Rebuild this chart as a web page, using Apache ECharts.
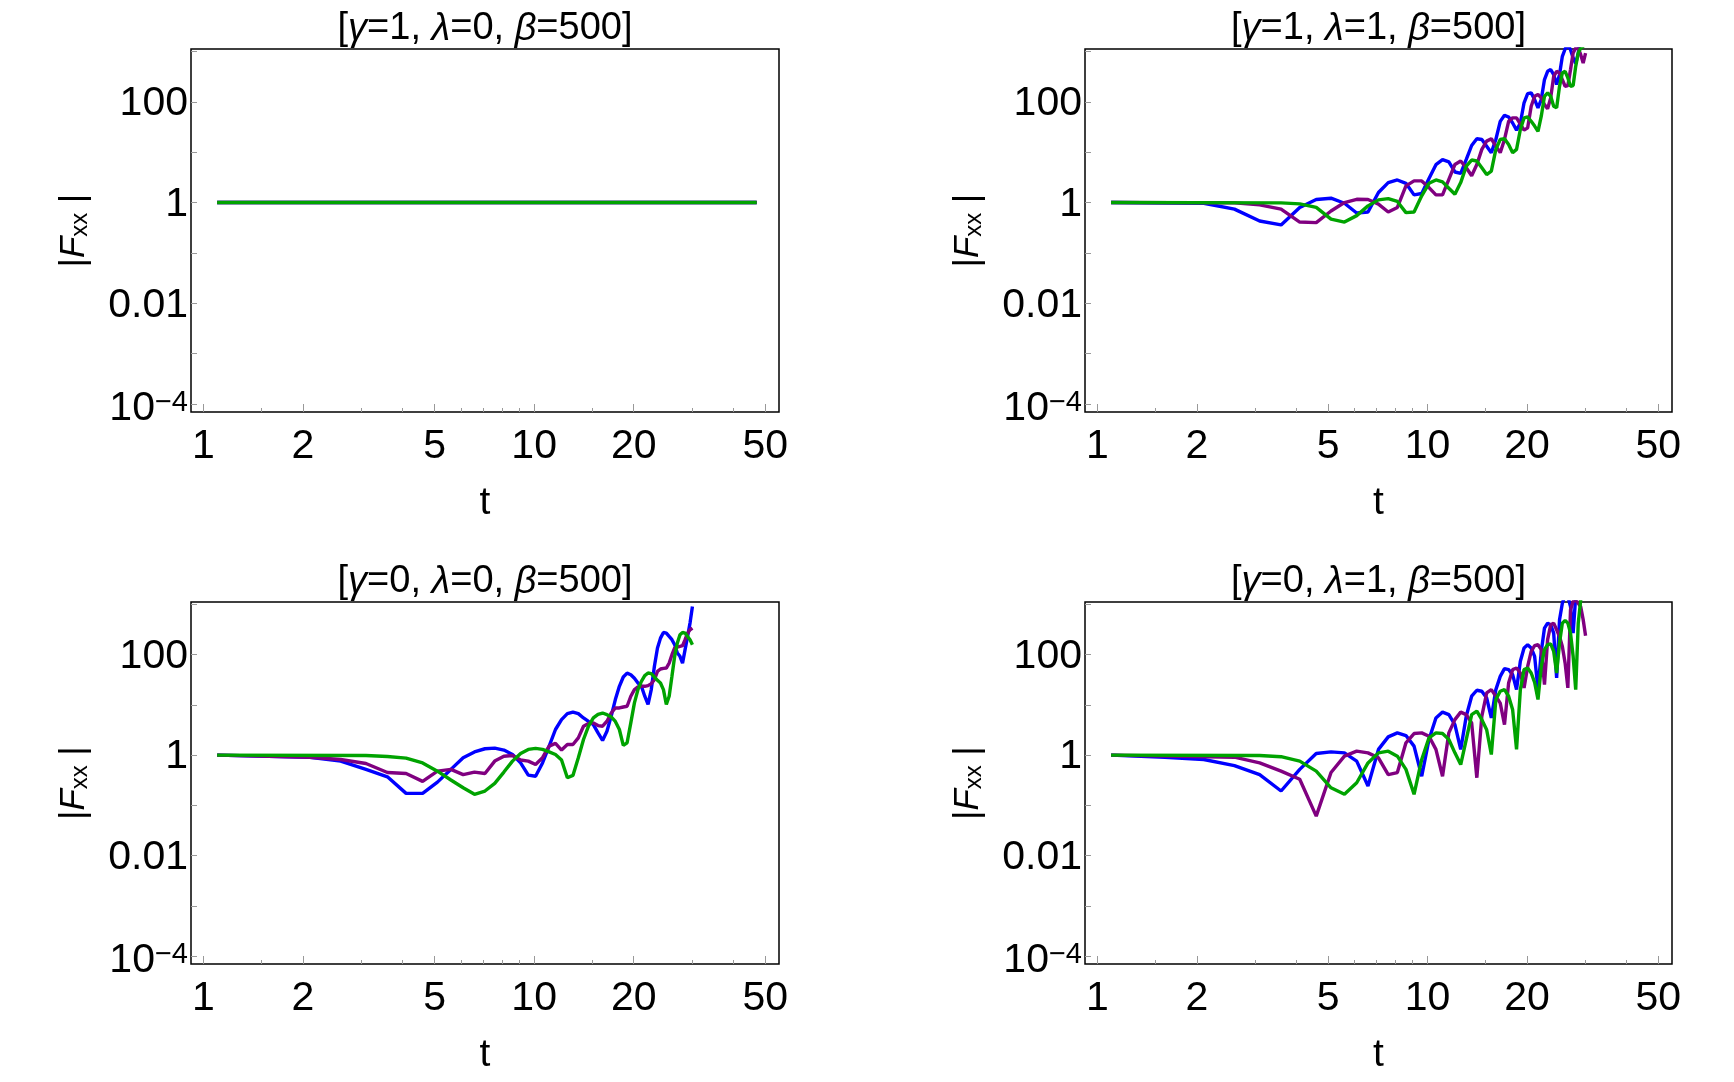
<!DOCTYPE html>
<html>
<head>
<meta charset="utf-8">
<script src="https://cdn.jsdelivr.net/npm/echarts@6/dist/echarts.min.js"></script>
<style>
    html, body { margin: 0; padding: 0; background: #fff; }
    #chart { width: 1734px; height: 1082px; }
</style>
</head>
<body>
<div id="chart"></div>
<script>
// panel titles (italic greek via rich text)
const panelTitles = [
    '[{i|γ}=1, {i|λ}=0, {i|β}=500]',
    '[{i|γ}=1, {i|λ}=1, {i|β}=500]',
    '[{i|γ}=0, {i|λ}=0, {i|β}=500]',
    '[{i|γ}=0, {i|λ}=1, {i|β}=500]'
];

const xMajorTicks = [1, 2, 5, 10, 20, 50];
const xMinorTicks = [1.5, 3, 4, 6, 7, 8, 9, 15, 30, 40];
const yLabelValues = [1e-4, 0.01, 1, 100];
const yTickValues = [1e-4, 1e-3, 0.01, 0.1, 1, 10, 100, 1000];

// [t, |Fxx|]
const tlBlue = [[1.1, 1], [47.1, 1]];
const tlPurple = [[1.1, 1], [47.1, 1]];
const tlGreen = [[1.1, 1], [47.1, 1]];

const trBlue = [[1.1,1],[2.1,0.97],[2.6,0.74],[3.1,0.43],[3.6,0.36],[4.1,0.80],[4.6,1.15],[5.1,1.22],[5.6,0.97],[6.1,0.62],[6.6,0.65],[7.1,1.58],[7.6,2.49],[8.1,2.81],[8.6,2.41],[9.1,1.42],[9.6,1.51],[10.1,2.99],[10.6,5.65],[11.1,7.1],[11.6,6.4],[12.1,4.05],[12.6,3.81],[13.1,7.2],[13.6,13.6],[14.1,18.5],[14.6,17.9],[15.1,13.2],[15.6,9.8],[16.1,17.9],[16.6,41],[17.1,54],[17.6,50],[18.1,38],[18.6,27.5],[19.1,38],[19.6,96],[20.1,146],[20.6,151],[21.1,111],[21.6,76],[22.1,111],[22.6,277],[23.1,405],[23.6,437],[24.1,348],[24.6,220],[25.1,348],[25.6,802],[26.1,1122],[26.6,1366],[27.1,1087],[27.6,743],[28.1,574],[28.6,933],[29.1,1995],[29.6,4000],[30.1,8000]];
const trPurple = [[1.1,1],[2.6,0.985],[3.1,0.90],[3.6,0.74],[4.1,0.41],[4.6,0.40],[5.1,0.68],[5.6,1.0],[6.1,1.16],[6.6,1.15],[7.1,0.93],[7.6,0.65],[8.1,0.80],[8.6,2.14],[9.1,2.69],[9.6,2.69],[10.1,1.98],[10.6,1.42],[11.1,1.42],[11.6,2.9],[12.1,5.7],[12.6,6.7],[13.1,4.9],[13.6,3.4],[14.1,5.7],[14.6,11.4],[15.1,16.6],[15.6,18.5],[16.1,13.2],[16.6,9.8],[17.1,17.9],[17.6,41],[18.1,48],[18.6,48],[19.1,36],[19.6,27.5],[20.1,30.5],[20.6,82],[21.1,129],[21.6,140],[22.1,120],[22.6,88],[23.1,73],[23.6,120],[24.1,322],[24.6,405],[25.1,375],[25.6,277],[26.1,204],[26.6,210],[27.1,437],[27.6,933],[28.1,1172],[28.6,1172],[29.1,865],[29.6,592],[30.1,933]];
const trGreen = [[1.1,1],[3.6,0.985],[4.1,0.94],[4.6,0.80],[5.1,0.47],[5.6,0.41],[6.1,0.55],[6.6,0.86],[7.1,1.13],[7.6,1.2],[8.1,1.05],[8.6,0.63],[9.1,0.65],[9.6,1.36],[10.1,2.41],[10.6,2.81],[11.1,2.57],[11.6,1.92],[12.1,1.46],[12.6,2.49],[13.1,5.3],[13.6,7.0],[14.1,6.7],[14.6,4.9],[15.1,3.6],[15.6,4.2],[16.1,11.4],[16.6,17.9],[17.1,18.5],[17.6,14.3],[18.1,9.8],[18.6,11.4],[19.1,28.3],[19.6,48],[20.1,50],[20.6,41],[21.1,33],[21.6,26],[22.1,52],[22.6,129],[23.1,151],[23.6,129],[24.1,82],[24.6,76],[25.1,204],[25.6,375],[26.1,405],[26.6,299],[27.1,204],[27.6,210],[28.1,508],[28.6,933],[29.1,1172],[29.6,1265],[30.1,1473]];

const blBlue = [[1.1,1],[2.1,0.91],[2.6,0.76],[3.1,0.52],[3.6,0.37],[4.1,0.173],[4.6,0.173],[5.1,0.29],[5.6,0.52],[6.1,0.89],[6.6,1.16],[7.1,1.34],[7.6,1.38],[8.1,1.26],[8.6,1.03],[9.1,0.70],[9.6,0.40],[10.1,0.38],[10.6,0.70],[11.1,1.51],[11.6,3.24],[12.1,5.1],[12.6,6.7],[13.1,7.2],[13.6,6.7],[14.1,5.5],[14.6,4.7],[15.1,4.06],[15.6,2.78],[16.1,1.96],[16.6,3.0],[17.1,6.0],[17.6,12.8],[18.1,23.5],[18.6,36],[19.1,43],[19.6,40],[20.1,34],[20.6,27.4],[21.1,23.5],[21.6,14.9],[22.1,10.2],[22.6,20.2],[23.1,59],[23.6,136],[24.1,214],[24.6,278],[25.1,269],[25.6,231],[26.1,199],[26.6,158],[27.1,108],[27.6,93],[28.1,68],[28.6,126],[29.1,231],[29.6,426],[30.1,912]];
const blPurple = [[1.1,1],[2.1,0.91],[2.6,0.82],[3.1,0.68],[3.6,0.45],[4.1,0.43],[4.6,0.30],[5.1,0.48],[5.6,0.52],[6.1,0.41],[6.6,0.46],[7.1,0.43],[7.6,0.76],[8.1,0.95],[8.6,0.985],[9.1,0.80],[9.6,0.76],[10.1,0.65],[10.6,0.89],[11.1,1.51],[11.6,1.71],[12.1,1.26],[12.6,1.63],[13.1,1.63],[13.6,2.21],[14.1,3.77],[14.6,4.26],[15.1,4.39],[15.6,3.88],[16.1,3.77],[16.6,4.73],[17.1,6.9],[17.6,8.7],[18.1,8.7],[18.6,9.1],[19.1,9.4],[19.6,14.9],[20.1,20.2],[20.6,22.8],[21.1,23.5],[21.6,23.5],[22.1,24.2],[22.6,26.5],[23.1,31.8],[23.6,46.7],[24.1,51.9],[24.6,53.5],[25.1,54.3],[25.6,68],[26.1,100],[26.6,136],[27.1,142],[27.6,146],[28.1,151],[28.6,199],[29.1,269],[29.6,314],[30.1,339]];
const blGreen = [[1.1,1],[3.1,0.985],[3.6,0.94],[4.1,0.87],[4.6,0.70],[5.1,0.48],[5.6,0.32],[6.1,0.224],[6.6,0.166],[7.1,0.193],[7.6,0.274],[8.1,0.46],[8.6,0.76],[9.1,1.08],[9.6,1.30],[10.1,1.36],[10.6,1.30],[11.1,1.16],[11.6,1.03],[12.1,0.80],[12.6,0.355],[13.1,0.395],[13.6,0.885],[14.1,2.05],[14.6,3.77],[15.1,5.5],[15.6,6.5],[16.1,6.9],[16.6,6.4],[17.1,5.8],[17.6,4.7],[18.1,3.24],[18.6,1.56],[19.1,1.76],[19.6,4.39],[20.1,11.0],[20.6,20.2],[21.1,29.5],[21.6,38.3],[22.1,43.2],[22.6,42],[23.1,36],[23.6,30.9],[24.1,27.4],[24.6,20.2],[25.1,10.2],[25.6,14.9],[26.1,37.1],[26.6,93],[27.1,171],[27.6,250],[28.1,278],[28.6,269],[29.1,231],[29.6,199],[30.1,158]];

const brBlue = [[1.1,1],[1.6,0.91],[2.1,0.82],[2.6,0.62],[3.1,0.41],[3.6,0.193],[4.1,0.52],[4.6,1.08],[5.1,1.16],[5.6,1.11],[6.1,0.76],[6.6,0.242],[7.1,1.30],[7.6,2.31],[8.1,2.78],[8.6,2.46],[9.1,1.51],[9.6,0.38],[10.1,2.05],[10.6,5.5],[11.1,7.2],[11.6,6.4],[12.1,4.06],[12.6,1.30],[13.1,6.0],[13.6,14.9],[14.1,19.6],[14.6,18.7],[15.1,13.8],[15.6,5.5],[16.1,20.2],[16.6,37],[17.1,52.7],[17.6,50.4],[18.1,40.1],[18.6,20.2],[19.1,74],[19.6,136],[20.1,158],[20.6,136],[21.1,93],[21.6,20.2],[22.1,116],[22.6,339],[23.1,426],[23.6,394],[24.1,269],[24.6,34.4],[25.1,496],[25.6,1062],[26.1,1556],[26.6,1442],[27.1,912],[27.6,269],[28.1,1442],[28.6,3000],[29.1,5000]];
const brPurple = [[1.1,1],[2.6,0.91],[3.1,0.70],[3.6,0.48],[4.1,0.33],[4.6,0.061],[5.1,0.45],[5.6,0.955],[6.1,1.20],[6.6,1.11],[7.1,0.885],[7.6,0.41],[8.1,0.45],[8.6,1.76],[9.1,2.69],[9.6,2.78],[10.1,2.38],[10.6,1.30],[11.1,0.38],[11.6,2.78],[12.1,5.1],[12.6,7.2],[13.1,6.4],[13.6,4.39],[14.1,0.355],[14.6,6.0],[15.1,17.3],[15.6,20.2],[16.1,14.9],[16.6,10.9],[17.1,4.06],[17.6,27.4],[18.1,50.4],[18.6,54.3],[19.1,43.2],[19.6,21.8],[20.1,58.6],[20.6,116],[21.1,151],[21.6,158],[22.1,126],[22.6,25.4],[23.1,199],[23.6,394],[24.1,426],[24.6,314],[25.1,231],[25.6,146],[26.1,68],[26.6,21.8],[27.1,783],[27.6,1148],[28.1,1239],[28.6,1062],[29.1,900],[29.6,500],[30.1,240]];
const brGreen = [[1.1,1],[3.1,0.985],[3.6,0.93],[4.1,0.76],[4.6,0.48],[5.1,0.224],[5.6,0.166],[6.1,0.282],[6.6,0.70],[7.1,1.11],[7.6,1.20],[8.1,0.955],[8.6,0.52],[9.1,0.166],[9.6,0.82],[10.1,2.21],[10.6,2.78],[11.1,2.69],[11.6,2.05],[12.1,1.11],[12.6,0.65],[13.1,2.05],[13.6,6.4],[14.1,7.5],[14.6,5.1],[15.1,3.2],[15.6,1.03],[16.1,12.8],[16.6,18.7],[17.1,20.2],[17.6,14.9],[18.1,8.0],[18.6,1.30],[19.1,20.2],[19.6,50.4],[20.1,54.3],[20.6,43.2],[21.1,28],[21.6,12.8],[22.1,58.6],[22.6,126],[23.1,158],[23.6,165],[24.1,116],[24.6,43.2],[25.1,171],[25.6,426],[26.1,481],[26.6,426],[27.1,269],[27.6,93],[28.1,20.2],[28.6,426],[29.1,1239],[29.6,1956],[30.1,3000]];

const panelSeries = [
    [tlBlue, tlPurple, tlGreen],
    [trBlue, trPurple, trGreen],
    [blBlue, blPurple, blGreen],
    [brBlue, brPurple, brGreen]
];
const seriesColors = ['#0000ff', '#800080', '#00a300'];

const FONT = '"Liberation Sans", Arial, sans-serif';
const panelBoxes = [
    { left: 191, top: 49, width: 588, height: 363 },
    { left: 1085, top: 49, width: 587, height: 363 },
    { left: 191, top: 602, width: 588, height: 362 },
    { left: 1085, top: 602, width: 587, height: 362 }
];
const X_MIN = 0.917, X_MAX = 55;
const Y_MIN = Math.pow(10, -4.16), Y_MAX = Math.pow(10, 3.05);

function yLabel(v) {
    const e = Math.round(Math.log10(v));
    if (e === -4) return '{b|10}{sup|−4}';
    if (e === -2) return '0.01';
    if (e === 0) return '1';
    return '100';
}

const grid = [], xAxis = [], yAxis = [], title = [], series = [];
panelBoxes.forEach(function (box, p) {
    grid.push({
        left: box.left, top: box.top, width: box.width, height: box.height,
        show: true, borderColor: '#000', borderWidth: 1.5, backgroundColor: 'transparent',
        outerBoundsMode: 'none'
    });
    title.push({
        text: panelTitles[p],
        left: box.left + box.width / 2,
        top: box.top - 39,
        textAlign: 'center',
        padding: 0,
        textStyle: {
            fontFamily: FONT, fontSize: 38, fontWeight: 'normal', color: '#000',
            rich: { i: { fontFamily: FONT, fontSize: 38, fontStyle: 'italic', color: '#000' } }
        }
    });
    // major ticks + labels
    xAxis.push({
        type: 'log', gridIndex: p, min: X_MIN, max: X_MAX, position: 'bottom',
        name: 't', nameLocation: 'middle', nameGap: 72,
        nameTextStyle: { fontFamily: FONT, fontSize: 39, color: '#000' },
        axisLine: { show: false },
        splitLine: { show: false },
        axisTick: { show: true, inside: true, length: 8, customValues: xMajorTicks,
            lineStyle: { color: '#999', width: 1 } },
        axisLabel: { show: true, customValues: xMajorTicks, margin: 14,
            fontFamily: FONT, fontSize: 41, color: '#000',
            formatter: function (v) { return String(+(+v).toPrecision(3)); } }
    });
    // minor ticks
    xAxis.push({
        type: 'log', gridIndex: p, min: X_MIN, max: X_MAX, position: 'bottom',
        axisLine: { show: false },
        splitLine: { show: false },
        axisTick: { show: true, inside: true, length: 4, customValues: xMinorTicks,
            lineStyle: { color: '#999', width: 1 } },
        axisLabel: { show: false }
    });
    yAxis.push({
        type: 'log', gridIndex: p, min: Y_MIN, max: Y_MAX,
        name: '|{f|F}{s|xx} |', nameLocation: 'middle', nameGap: 99, nameRotate: 90,
        nameTextStyle: {
            fontFamily: FONT, fontSize: 35, color: '#000',
            rich: {
                f: { fontFamily: FONT, fontSize: 35, fontStyle: 'italic', color: '#000' },
                s: { fontFamily: FONT, fontSize: 24, color: '#000', verticalAlign: 'bottom' }
            }
        },
        axisLine: { show: false },
        splitLine: { show: false },
        axisTick: { show: true, inside: true, length: 6, customValues: yTickValues,
            lineStyle: { color: '#999', width: 1 } },
        axisLabel: {
            show: true, customValues: yLabelValues, margin: 3, padding: [4, 0, 0, 0],
            fontFamily: FONT, fontSize: 41, color: '#000',
            formatter: yLabel,
            rich: {
                b: { fontFamily: FONT, fontSize: 41, color: '#000', padding: [6, 0, 0, 0] },
                sup: { fontFamily: FONT, fontSize: 29, color: '#000', verticalAlign: 'top', padding: [6, 0, 0, 0] }
            }
        }
    });
    panelSeries[p].forEach(function (data, k) {
        series.push({
            type: 'line',
            xAxisIndex: 2 * p,
            yAxisIndex: p,
            data: data,
            symbol: 'none',
            clip: true,
            lineStyle: { color: seriesColors[k], width: 3.4 },
            itemStyle: { color: seriesColors[k] }
        });
    });
});

const chart = echarts.init(document.getElementById('chart'));
chart.setOption({
    animation: false,
    backgroundColor: '#fff',
    title: title,
    grid: grid,
    xAxis: xAxis,
    yAxis: yAxis,
    series: series
});
window.addEventListener('resize', function () { chart.resize(); });
</script>
</body>
</html>
